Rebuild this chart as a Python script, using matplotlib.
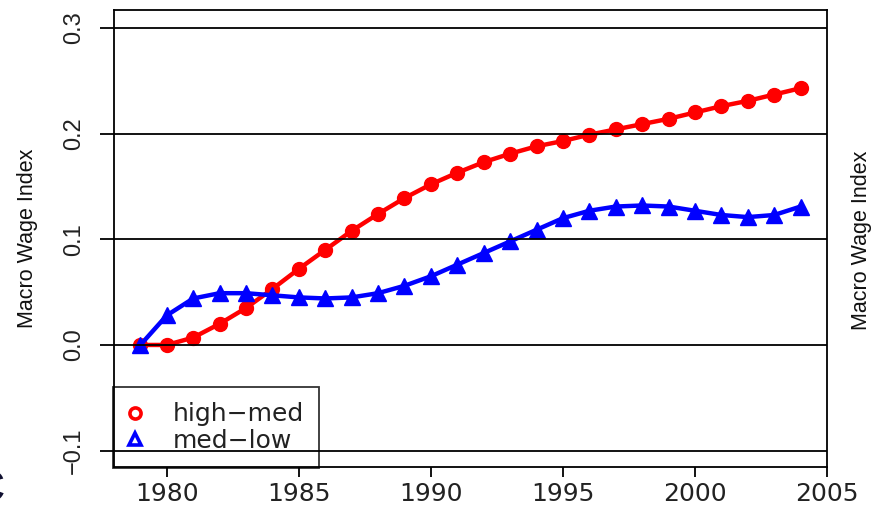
import matplotlib
matplotlib.use("Agg")
import matplotlib.pyplot as plt
from matplotlib.lines import Line2D

plt.rcParams['font.family'] = ['Liberation Sans', 'DejaVu Sans']

years = list(range(1979, 2005))
high_med = [0.000, 0.000, 0.007, 0.020, 0.035, 0.053, 0.072, 0.090, 0.108, 0.124,
            0.139, 0.152, 0.163, 0.173, 0.181, 0.188, 0.193, 0.199, 0.204, 0.209,
            0.214, 0.220, 0.226, 0.231, 0.237, 0.243]
med_low = [0.000, 0.028, 0.044, 0.049, 0.049, 0.047, 0.045, 0.044, 0.045, 0.049,
           0.056, 0.065, 0.076, 0.087, 0.098, 0.109, 0.120, 0.127, 0.131, 0.132,
           0.131, 0.127, 0.123, 0.121, 0.123, 0.131]
x_ticks = [1980, 1985, 1990, 1995, 2000, 2005]
y_ticks = [-0.1, 0.0, 0.1, 0.2, 0.3]
y_tick_labels = ["\u22120.1", "0.0", "0.1", "0.2", "0.3"]
series_names = ["high\u2212med", "med\u2212low"]
y_label = "Macro Wage Index"

W, H = 876, 513
fig = plt.figure(figsize=(W / 100, H / 100), dpi=100)
ax = fig.add_axes([114 / W, 1 - 467 / H, (827 - 114) / W, (467 - 10) / H])

ax.set_xlim(1978, 2005)
ax.set_ylim(-0.1155, 0.317)

# horizontal reference lines at each y tick
for yv in y_ticks:
    ax.axhline(yv, color='black', lw=1.3, zorder=6)

ax.plot(years, high_med, color='#ff0000', lw=3.2, marker='o', ms=10,
        mec='#ff0000', mfc='#ff0000', zorder=3)
ax.plot(years, med_low, color='#0000ff', lw=3.2, marker='^', ms=11,
        mec='#0000ff', mfc='#0000ff', zorder=4)

ax.set_xticks(x_ticks)
ax.set_xticklabels([str(v) for v in x_ticks], family='DejaVu Sans', fontsize=18)
ax.set_yticks(y_ticks)
ax.set_yticklabels(y_tick_labels, rotation=90, va='center', fontsize=17)
ax.tick_params(axis='x', length=7.5, width=1.3, pad=3, colors='black')
ax.tick_params(axis='y', length=10, width=1.3, pad=11, colors='black')
for lab in ax.get_xticklabels() + ax.get_yticklabels():
    lab.set_color('#222222')
for s in ax.spines.values():
    s.set_linewidth(1.3)
    s.set_color('black')

ax.set_ylabel(y_label, fontsize=15.5, labelpad=18, color='#111111')

handles = [
    Line2D([], [], ls='none', marker='o', ms=8, mfc='none', mec='#ff0000', mew=2.6),
    Line2D([], [], ls='none', marker='^', ms=9, mfc='none', mec='#0000ff', mew=2.6),
]
leg = ax.legend(handles, series_names, loc='lower left', bbox_to_anchor=(-0.002, -0.002),
                borderaxespad=0, prop={'family': 'DejaVu Sans', 'size': 18},
                frameon=True, fancybox=False,
                handlelength=0.6, handletextpad=1.2, labelspacing=0.1,
                borderpad=0.6)
leg.get_frame().set_edgecolor('black')
leg.get_frame().set_linewidth(1.3)
leg.get_frame().set_facecolor('none')
leg.set_zorder(5)
for t in leg.get_texts():
    t.set_color('#222222')

# neighbouring panel's axis title at the right edge
fig.text(862 / W, 1 - 240 / H, y_label, rotation=90, fontsize=15.5,
         ha='center', va='center', color='#111111')
# edge of a slide heading letter at the bottom-left corner
fig.text(-0.034, 1 - 490 / H, "C", fontsize=34, fontweight='bold',
         ha='left', va='center', color='#101030')

fig.savefig("out.png", dpi=100)
